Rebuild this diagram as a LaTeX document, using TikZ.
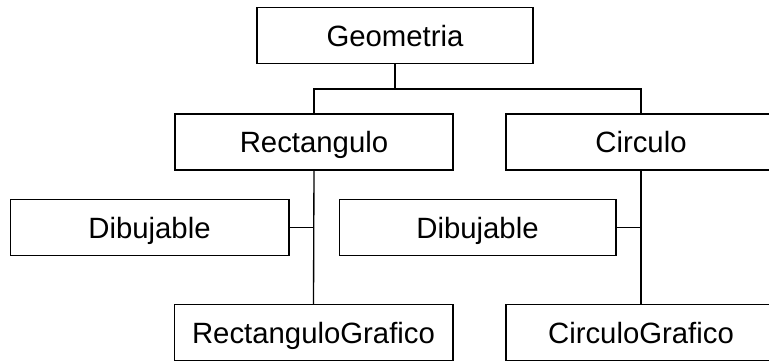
\documentclass[tikz,border=0pt]{standalone}
\usepackage{fontspec}
\setmainfont{Liberation Sans}
\begin{document}
\begin{tikzpicture}[x=0.75pt,y=-0.75pt,line width=1pt,
                clase/.style={draw,minimum height=42pt,inner sep=0pt,outer sep=0pt,
                    text height=15.8pt,text depth=0pt,
                    font=\fontsize{22}{26}\selectfont}]
                \useasboundingbox (0,0) rectangle (769,363);

                \node [clase,minimum width=207pt] (geo) at (395,35.5) {Geometria};
                \node [clase,minimum width=208.5pt] (rect) at (314,142) {Rectangulo};
                \node [clase,minimum width=202.5pt] (circ) at (641,142) {Circulo};
                \node [clase,minimum width=209pt] (dib1) at (149.5,227.5) {Dibujable};
                \node [clase,minimum width=207.5pt] (dib2) at (477.5,227.5) {Dibujable};
                \node [clase,minimum width=209pt] (rgraf) at (313.5,332.5) {RectanguloGrafico};
                \node [clase,minimum width=202.5pt] (cgraf) at (641,332.5) {CirculoGrafico};

                \coordinate (bar) at (395,89);

                \draw (geo.south) -- (bar);
                \draw (rect.north) |- (bar) -| (circ.north);

                \draw (rect.south) -- (rgraf.north);
                \draw (circ.south) -- (cgraf.north);

                \draw (dib1.east) -- (dib1.east -| rect.south);
                \draw (dib2.east) -- (dib2.east -| circ.south);
\end{tikzpicture}
\end{document}
